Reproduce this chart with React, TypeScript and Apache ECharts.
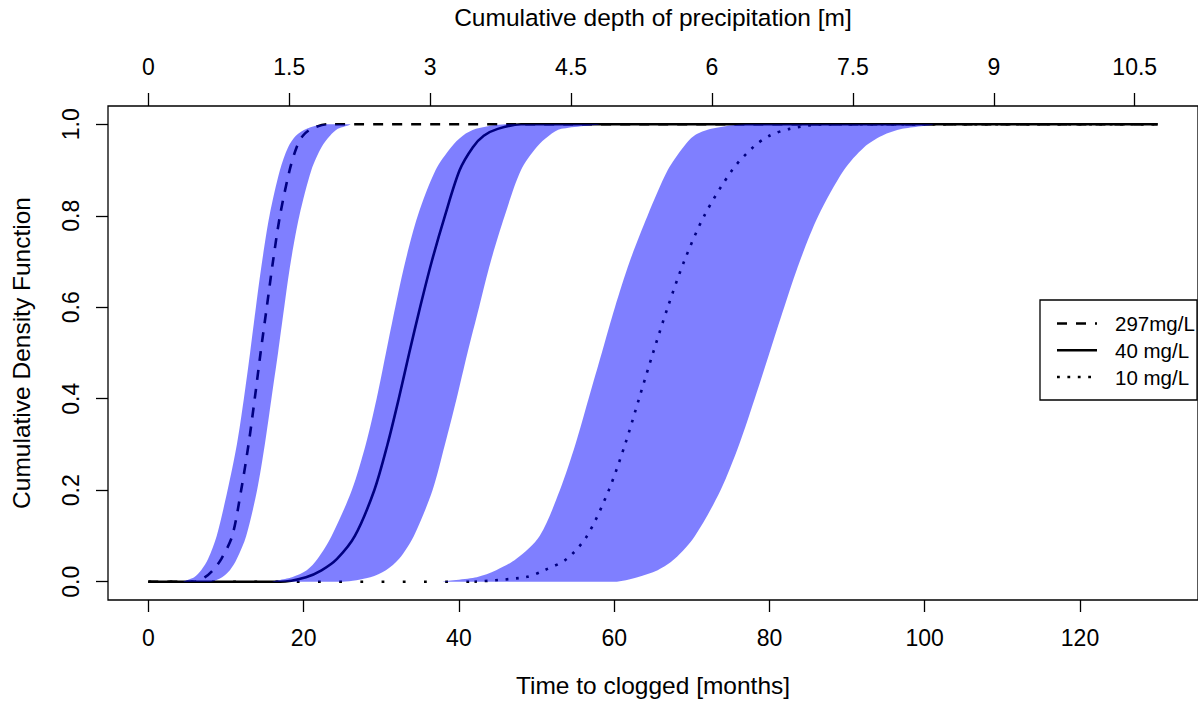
import React, { useEffect, useRef } from "react";
import * as echarts from "echarts";

// Cumulative probability levels at which the curves were read
const probLevels = [0, 0.01, 0.025, 0.05, 0.1, 0.2, 0.3, 0.4, 0.5, 0.6, 0.7, 0.8, 0.9, 0.95, 0.975, 0.99, 1];

// Months at which each curve reaches the levels above
const mid297 = [6, 7.3, 8.3, 9.4, 10.8, 11.95, 12.9, 13.7, 14.45, 15.25, 16.05, 16.95, 18.2, 19.1, 19.9, 21.0, 23];
const lo297 = [4.5, 5.9, 6.8, 7.7, 8.8, 10.2, 11.4, 12.3, 13.1, 13.85, 14.65, 15.6, 16.95, 18.0, 19.0, 20.4, 22.5];
const hi297 = [8.0, 9.5, 10.5, 11.4, 12.6, 14.0, 15.0, 15.85, 16.7, 17.5, 18.35, 19.45, 21.0, 22.3, 23.4, 24.4, 26];

const mid40 = [17, 20.3, 22.3, 24.3, 26.6, 29.1, 30.8, 32.25, 33.6, 35.0, 36.5, 38.2, 40.1, 41.8, 43.2, 45.0, 48];
const lo40 = [16, 18.5, 20.4, 21.8, 23.6, 26.2, 28.0, 29.4, 30.6, 31.8, 33.1, 34.7, 37.0, 39.0, 40.5, 42.2, 46];
const hi40 = [25, 28.6, 30.6, 32.3, 34.2, 36.6, 38.2, 39.7, 41.1, 42.6, 44.1, 45.9, 48.0, 50.0, 51.6, 53.2, 58];

const mid10 = [42, 48.6, 51.0, 53.9, 56.5, 59.3, 61.4, 63.2, 65.0, 66.9, 69.0, 71.6, 75.2, 77.9, 80.0, 82.6, 87];
const lo10 = [38, 42.3, 44.8, 47.4, 50.4, 53.0, 55.0, 56.7, 58.4, 60.1, 62.0, 64.3, 66.9, 68.9, 70.3, 72.5, 77];
const hi10 = [60, 63.0, 65.6, 67.8, 70.4, 73.7, 76.1, 78.1, 80.0, 81.9, 83.9, 86.3, 89.6, 92.2, 94.5, 97.1, 101];

const legendLabels = ["297mg/L", "40 mg/L", "10 mg/L"];

const monthTicks = [0, 20, 40, 60, 80, 100, 120];
const depthTicks = [0, 1.5, 3, 4.5, 6, 7.5, 9, 10.5];
const cdfTicks = [0, 0.2, 0.4, 0.6, 0.8, 1.0];

const MONTHS_PER_METER = 12.1;
const X_START = 0;
const X_END = 130;
const X_MIN = -5.2;
const X_MAX = 135.2;
const Y_MIN = -0.04;
const Y_MAX = 1.04;

const FONT = "'Liberation Sans', Arial, Helvetica, sans-serif";
const BAND_FILL = "rgba(0,0,255,0.5)";
const DASH = [10, 9];
const DOT = [2.8, 7.6];
const DOT_SPARSE = [2.8, 18.4];

function curvePoints(months: number[]): number[][] {
  return [[X_START, 0], ...months.map((m, i) => [m, probLevels[i]]), [X_END, 1]];
}

function bandPoints(lo: number[], hi: number[]): number[][] {
  const left = lo.map((m, i) => [m, probLevels[i]]);
  const right = hi.map((m, i) => [m, probLevels[i]]).reverse();
  return [...left, ...right];
}

function bandSeries(lo: number[], hi: number[]) {
  const pts = bandPoints(lo, hi);
  return {
    type: "custom",
    z: 3,
    silent: true,
    data: [[0, 0]],
    renderItem: (_params: any, api: any) => {
      const px = pts.map((p) => api.coord(p));
      const a = api.coord([X_MIN, 0]);
      const b = api.coord([X_MAX, 1]);
      return {
        type: "polygon",
        shape: {
          points: px,
          smooth: 0.3,
          smoothConstraint: [
            [a[0], b[1]],
            [b[0], a[1]],
          ],
        },
        style: { fill: BAND_FILL, stroke: "none" },
      };
    },
  };
}

function lineSeries(name: string, data: number[][], dash: any, smooth: number | boolean = 0.3) {
  return {
    name,
    type: "line",
    z: 2,
    silent: true,
    data,
    showSymbol: false,
    symbol: "none",
    smooth,
    lineStyle: { color: "#000", width: 2.6, type: dash, cap: "butt" },
  };
}

const tickStyle = { color: "#000", width: 1.3 };

export default function App() {
  const ref = useRef<HTMLDivElement>(null);

  useEffect(() => {
    if (!ref.current) return;
    const chart = echarts.init(ref.current, undefined, { renderer: "svg" });
    const legendRows = [323.5, 350.3, 377];
    const legendDash: any[] = [DASH, null, DOT];

    const dotted = curvePoints(mid10);

    const option: any = {
      animation: false,
      backgroundColor: "#fff",
      textStyle: { fontFamily: FONT },
      grid: {
        show: true,
        left: 108,
        right: -7,
        top: 101,
        bottom: 104,
        borderColor: "#000",
        borderWidth: 1.3,
        backgroundColor: "transparent",
      },
      xAxis: [
        {
          type: "value",
          position: "bottom",
          min: X_MIN,
          max: X_MAX,
          name: "Time to clogged [months]",
          nameLocation: "middle",
          nameGap: 73,
          nameTextStyle: { fontSize: 24.5, color: "#000", fontFamily: FONT },
          axisLine: { show: false, onZero: false },
          splitLine: { show: false },
          axisTick: {
            show: true,
            inside: false,
            length: 12,
            customValues: monthTicks,
            lineStyle: tickStyle,
          },
          axisLabel: {
            customValues: monthTicks,
            fontSize: 23,
            color: "#000",
            margin: 26,
            fontFamily: FONT,
          },
        },
        {
          type: "value",
          position: "top",
          min: X_MIN / MONTHS_PER_METER,
          max: X_MAX / MONTHS_PER_METER,
          name: "Cumulative depth of precipitation [m]",
          nameLocation: "middle",
          nameGap: 76,
          nameTextStyle: { fontSize: 24.5, color: "#000", fontFamily: FONT },
          axisLine: { show: false, onZero: false },
          splitLine: { show: false },
          axisTick: {
            show: true,
            inside: false,
            length: 13,
            customValues: depthTicks,
            lineStyle: tickStyle,
          },
          axisLabel: {
            customValues: depthTicks,
            fontSize: 23,
            color: "#000",
            margin: 28,
            fontFamily: FONT,
            formatter: (v: number) => String(v),
          },
        },
      ],
      yAxis: {
        type: "value",
        min: Y_MIN,
        max: Y_MAX,
        name: "Cumulative Density Function",
        nameLocation: "middle",
        nameGap: 74,
        nameTextStyle: { fontSize: 24.5, color: "#000", fontFamily: FONT },
        axisLine: { show: false, onZero: false },
        splitLine: { show: false },
        axisTick: {
          show: true,
          inside: false,
          length: 12,
          customValues: cdfTicks,
          lineStyle: tickStyle,
        },
        axisLabel: {
          customValues: cdfTicks,
          rotate: 90,
          fontSize: 23,
          color: "#000",
          margin: 26,
          fontFamily: FONT,
          formatter: (v: number) => v.toFixed(1),
        },
      },
      series: [
        lineSeries(legendLabels[0], curvePoints(mid297), DASH),
        lineSeries(legendLabels[1], curvePoints(mid40), "solid"),
        lineSeries(legendLabels[2], dotted.slice(0, 2), DOT_SPARSE, false),
        lineSeries(legendLabels[2], dotted.slice(1), DOT),
        bandSeries(lo297, hi297),
        bandSeries(lo40, hi40),
        bandSeries(lo10, hi10),
      ],
      graphic: [
        {
          type: "group",
          z: 100,
          children: [
            {
              type: "rect",
              shape: { x: 1040, y: 300, width: 157, height: 100 },
              style: { fill: "#fff", stroke: "#000", lineWidth: 1.3 },
            },
            ...legendLabels.flatMap((label, i) => [
              {
                type: "line",
                shape: { x1: 1057, y1: legendRows[i], x2: 1097, y2: legendRows[i] },
                style: {
                  stroke: "#000",
                  lineWidth: 2.6,
                  lineDash: legendDash[i] || undefined,
                  lineCap: "butt",
                },
              },
              {
                type: "text",
                x: 1115,
                y: legendRows[i],
                style: {
                  text: label,
                  fill: "#000",
                  font: `20.5px ${FONT}`,
                  verticalAlign: "middle",
                  align: "left",
                },
              },
            ]),
          ],
        },
      ],
    };

    chart.setOption(option);
    return () => chart.dispose();
  }, []);

  return (
    <div
      ref={ref}
      style={{ position: "fixed", left: 0, top: 0, width: 1198, height: 704, background: "#fff" }}
    />
  );
}
